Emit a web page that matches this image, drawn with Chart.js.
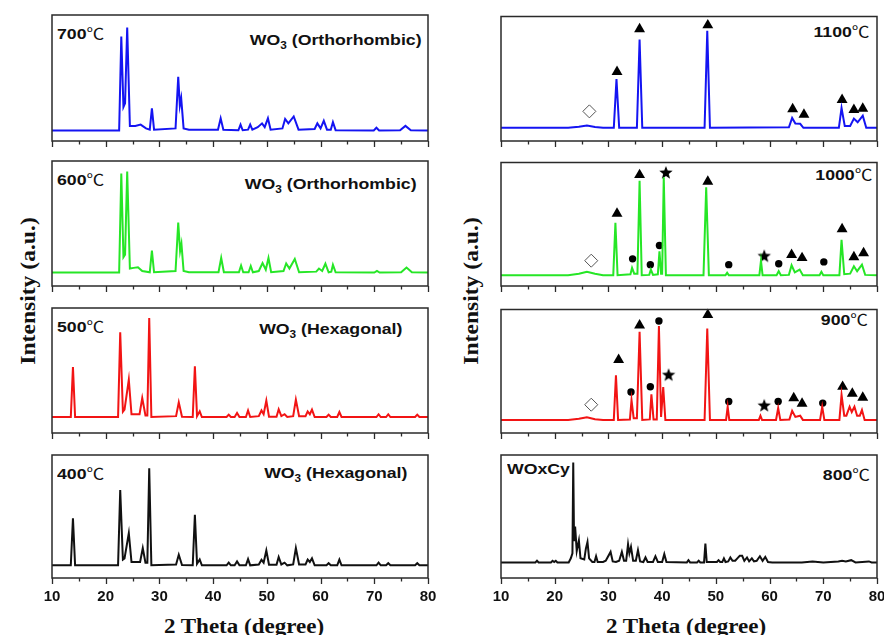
<!DOCTYPE html>
<html>
<head>
<meta charset="utf-8">
<script src="https://cdn.jsdelivr.net/npm/chart.js@4.4.0/dist/chart.umd.min.js"></script>
<style>
  html, body { margin: 0; padding: 0; background: #fff; overflow: hidden; }
  #fig { position: relative; width: 884px; height: 635px; }
  #fig canvas { position: absolute; }
  .lbl { position: absolute; white-space: nowrap; font: bold 15px "Liberation Sans", Arial, sans-serif;
         line-height: 15px; color: #111; transform: scaleX(1.18); transform-origin: left top; }
  .lbl.r { transform-origin: right top; }
  .deg { font-family: "Noto Sans CJK SC", "DejaVu Sans", sans-serif; font-weight: normal; }
  .lbl sub { font-size: 10px; line-height: 0; vertical-align: -4px; }
  .axt { position: absolute; white-space: nowrap; font: bold 20px "Liberation Serif", "Times New Roman", serif;
         line-height: 20px; color: #111; }
</style>
</head>
<body>
<div id="fig">
  <div class="lbl" style="left:57px;top:25px">700<span class="deg">℃</span></div>
  <div class="lbl r" style="right:462px;top:32px">WO<sub>3</sub> (Orthorhombic)</div>
  <div class="lbl" style="left:57px;top:171px">600<span class="deg">℃</span></div>
  <div class="lbl r" style="right:467px;top:176px">WO<sub>3</sub> (Orthorhombic)</div>
  <div class="lbl" style="left:57px;top:318px">500<span class="deg">℃</span></div>
  <div class="lbl r" style="right:482px;top:321px">WO<sub>3</sub> (Hexagonal)</div>
  <div class="lbl" style="left:57px;top:465px">400<span class="deg">℃</span></div>
  <div class="lbl r" style="right:477px;top:465px">WO<sub>3</sub> (Hexagonal)</div>

  <div class="lbl r" style="right:14px;top:23px">1100<span class="deg">℃</span></div>
  <div class="lbl r" style="right:12px;top:166px">1000<span class="deg">℃</span></div>
  <div class="lbl r" style="right:16px;top:311px">900<span class="deg">℃</span></div>
  <div class="lbl" style="left:507px;top:461px">WOxCy</div>
  <div class="lbl r" style="right:14px;top:466px">800<span class="deg">℃</span></div>

  <div class="axt" style="left:244px;top:616px;transform:translateX(-50%) scaleX(1.15)">2 Theta (degree)</div>
  <div class="axt" style="left:686px;top:616px;transform:translateX(-50%) scaleX(1.15)">2 Theta (degree)</div>
  <div class="axt" style="left:28px;top:291px;transform:translate(-50%,-50%) rotate(-90deg) scaleX(1.18)">Intensity (a.u.)</div>
  <div class="axt" style="left:471px;top:291px;transform:translate(-50%,-50%) rotate(-90deg) scaleX(1.18)">Intensity (a.u.)</div>
</div>
<script>
// 2-theta range shared by every panel
const THETA_MIN = 10;
const THETA_MAX = 80;

// Spectra, [2theta, intensity %]
const xrd700 = [[10,8.4],[22.5,8.4],[22.9,83],[23.3,27],[23.6,30],[24.0,90],[24.5,12],[25.5,12],[26.5,13],[27.5,10],
  [28.2,9],[28.6,26],[29.0,9],[33.0,10],[33.5,51],[33.8,28],[34.05,34],[34.5,10],[35.5,9],[40.9,9],[41.4,18],[41.9,9],
  [44.7,8.5],[45.1,13],[45.5,8.5],[46.5,9],[46.9,13],[47.3,9],[48.3,11],[49.1,14],[49.6,11],[50.2,18],[50.7,9],
  [52.9,10],[53.4,17.5],[54.0,14],[55.0,19.5],[55.9,9],[58.9,9.5],[59.4,14],[60.0,10],[60.6,16],[61.2,9],[61.9,9],
  [62.3,15],[62.8,8.6],[69.9,8.4],[70.4,10.5],[70.9,8.4],[74.8,8.6],[75.8,12],[76.8,8.6],[80,8.4]];
const xrd600 = [[10,10.8],[22.5,10.8],[22.9,90],[23.3,23],[23.6,25],[24.0,91.6],[24.5,14],[25.2,14.5],[26.0,15],
  [26.8,12],[28.2,11],[28.6,28.3],[29.0,11],[33.0,12],[33.5,50.7],[33.85,28],[34.1,33.7],[34.5,12],[35.5,11],
  [41.0,11],[41.5,22.4],[42.0,11],[44.8,11],[45.2,16.4],[45.6,11],[46.6,11],[47.0,16],[47.4,11],[48.5,12],[49.2,18.3],
  [49.8,13],[50.3,22.4],[50.8,11],[53.1,12],[53.6,18],[54.2,14],[55.2,21.6],[56.0,11],[59.2,11.5],[59.7,14],
  [60.3,12],[60.9,17.8],[61.5,11],[62.0,11.5],[62.3,17],[62.8,11],[70.0,10.8],[70.5,12],[71.0,10.8],[75.0,11],
  [76.0,14.8],[77.0,11],[80,10.8]];
const xrd500 = [[10,12.8],[13.5,12.8],[13.9,52.8],[14.3,12.8],[22.3,12.8],[22.7,80.5],[23.2,17],[23.5,18.7],[24.3,42.7],
  [24.8,15],[26.3,15],[26.8,28],[27.4,14],[27.75,14],[28.1,92],[28.5,12.8],[33.1,13.5],[33.6,24.5],[34.2,13],
  [36.2,12.8],[36.6,53.3],[37.0,13.5],[37.5,17.3],[37.9,12.8],[42.5,12.8],[42.9,14.7],[43.3,12.8],[44.0,12.8],
  [44.45,16],[44.9,12.8],[46.1,12.8],[46.5,18],[46.9,12.8],[48.5,13.5],[49.0,18],[49.4,15],[49.9,25.9],[50.4,13],
  [51.8,13],[52.2,19],[52.7,13.5],[53.3,15],[53.8,12.8],[54.9,13.5],[55.4,26.7],[56.0,13.5],[57.2,13.5],[57.6,17.3],
  [58.0,15],[58.4,18.7],[58.9,12.8],[61.1,12.8],[61.5,14.7],[61.9,12.8],[63.1,12.8],[63.5,16.8],[63.9,12.8],
  [70.4,12.8],[70.8,15],[71.2,12.8],[72.2,12.8],[72.6,15],[73.0,12.8],[77.6,12.8],[78.0,14.7],[78.4,12.8],[80,12.8]];
const xrd400 = [[10,10.3],[13.5,10.3],[13.9,48.6],[14.3,10.3],[22.3,10.3],[22.7,71.6],[23.2,15],[23.5,16],[24.3,36.5],
  [24.8,13],[26.4,13],[26.9,24.3],[27.4,12.5],[27.75,12.5],[28.1,89.2],[28.5,10.3],[33.1,11],[33.6,18.9],[34.2,10.5],
  [36.2,10.3],[36.6,51.4],[37.0,11.5],[37.5,15],[37.9,10.3],[42.5,10.3],[42.9,12.5],[43.3,10.3],[44.0,10.3],
  [44.45,13.5],[44.9,10.3],[46.1,10.3],[46.5,15.4],[46.9,10.3],[48.5,11],[49.0,14.8],[49.4,12.5],[49.9,22.4],
  [50.4,10.8],[51.8,10.8],[52.2,17],[52.7,11],[53.3,12.5],[53.8,10.3],[54.9,11],[55.4,24.3],[56.0,11],[57.2,11],
  [57.6,15],[58.0,13],[58.4,16],[58.9,10.3],[61.1,10.3],[61.5,12],[61.9,10.3],[63.1,10.3],[63.5,15],[63.9,10.3],
  [70.4,10.3],[70.8,12.5],[71.2,10.3],[72.2,10.3],[72.6,12],[73.0,10.3],[77.6,10.3],[78.0,12],[78.4,10.3],[80,10.3]];

const xrd1100 = [[10,10.6],[22.5,10.6],[24.5,11.5],[26.0,12.4],[27.5,11.2],[29.0,10.6],[31.0,10.6],[31.5,49.7],
  [32.0,10.6],[35.3,10.6],[35.8,81.5],[36.3,10.6],[47.9,10.6],[48.4,88.6],[48.9,10.6],[63.6,11],[64.2,18.5],
  [64.8,14],[65.7,13.8],[66.3,10.6],[72.9,10.6],[73.4,26.5],[74.0,12],[75.0,12],[75.7,18],[76.4,15],[77.35,20.4],
  [78.0,10.6],[80,10.6]];
const xrd1000 = [[10,8.8],[22.5,8.8],[24.5,10],[26.0,11.5],[27.5,10],[29.0,8.8],[30.9,8.8],[31.3,51.2],[31.7,8.8],
  [34.1,9.5],[34.4,14.7],[34.8,10],[35.4,10],[35.8,85.3],[36.2,8.8],[37.6,9],[37.9,13.3],[38.3,9],[39.2,9.5],
  [39.5,28],[39.8,10],[40.0,10],[40.3,88],[40.7,8.8],[47.7,8.8],[48.2,80],[48.7,8.8],[51.8,8.8],[52.1,10.7],
  [52.4,8.8],[58.1,8.8],[58.4,20.5],[58.7,8.8],[61.3,8.8],[61.7,12],[62.1,8.8],[63.6,9],[64.1,16.8],[64.7,11],
  [65.6,13.3],[66.2,8.8],[69.3,8.8],[69.65,11.5],[70.0,8.8],[73.0,8.8],[73.4,37.3],[73.9,9.5],[75.0,10],[75.7,16],
  [76.3,12],[77.2,17.3],[77.8,9],[80,8.8]];
const xrd900 = [[10,10.6],[22.5,10.6],[24.5,11.5],[26.0,12.8],[27.5,11.2],[29.0,10.6],[31.0,10.6],[31.4,46.8],
  [31.8,10.6],[34.0,11],[34.3,26.6],[34.7,12],[35.3,12],[35.8,81.9],[36.3,10.6],[37.7,11],[38.0,31.4],[38.4,11],
  [39.0,11],[39.4,86.7],[39.8,13],[40.2,37.2],[40.6,10.6],[47.9,10.6],[48.4,84.6],[48.9,10.6],[51.9,10.6],
  [52.2,21.3],[52.5,10.6],[58.0,10.6],[58.3,14],[58.6,10.6],[61.2,10.6],[61.6,20.2],[62.0,10.6],[63.7,11],
  [64.2,18],[64.8,13],[65.7,14],[66.2,10.6],[69.4,10.6],[69.8,21.3],[70.2,10.6],[73.0,10.6],[73.4,30.9],[73.9,14],
  [74.3,14],[74.9,21.3],[75.3,17],[75.8,21.3],[76.3,14],[76.8,14],[77.2,18.6],[77.7,10.6],[80,10.6]];
const xrd800 = [[10,12.7],[16.4,12.7],[16.7,14],[17.0,12.7],[19.3,12.7],[19.6,14],[19.9,13],[20.2,14],[20.5,12.7],
  [22.6,12.7],[23.0,16],[23.3,20],[23.45,93.8],[23.6,30],[23.8,41.9],[24.1,22],[24.5,30.6],[24.8,16],[25.5,15],
  [25.8,23.9],[26.1,29.3],[26.4,16],[27.0,13],[27.4,13],[27.7,17.7],[28.0,13],[29.0,13],[29.5,14],[30.4,21.2],
  [30.8,13.5],[31.4,13],[32.0,14],[32.5,21.2],[32.9,14],[33.3,14],[33.65,27.4],[33.9,20],[34.2,25.3],[34.6,14],
  [35.1,14],[35.5,22.6],[35.9,13.5],[36.5,13],[36.9,16.7],[37.3,13],[38.3,13],[38.75,17.7],[39.2,13],[40.0,13],
  [40.4,19.4],[40.8,13],[44.6,12.7],[44.9,14.5],[45.2,12.7],[46.5,12.7],[46.8,14],[47.1,12.7],[47.8,12.7],
  [48.05,28],[48.3,13],[50.2,13],[50.5,14.5],[50.8,13],[51.2,13],[51.5,15.9],[51.8,13],[52.3,13.5],[52.7,16.7],
  [53.1,14],[53.6,14],[54.0,16],[54.45,18],[54.9,18],[55.3,14],[55.8,16.7],[56.2,13.5],[56.7,15.9],[57.1,13.5],
  [57.6,14],[58.2,17.7],[58.7,14],[59.2,17.2],[59.7,13],[60.5,12.7],[66.0,12.7],[68.0,13.5],[70.0,12.7],[72.8,13.5],
  [73.5,14],[74.2,13.5],[75.2,14.5],[76.0,12.7],[78.5,13.5],[79.0,12.7],[80,12.7]];

// Phase markers, [2theta, height %]
const tri1100 = [[31.6,55.6],[35.8,89.9],[48.5,93],[64.3,25.7],[66.4,21.2],[73.5,33],[75.7,25],[77.35,26]];
const dia1100 = [[26.45,23.8]];
const tri1000 = [[31.6,58.7],[35.8,89.9],[48.5,84.5],[64.1,25.3],[66.05,22.7],[73.5,46.1],[75.7,23.5],[77.5,26.7]];
const dot1000 = [[34.5,22],[37.8,17.3],[39.5,32.8],[52.4,17.3],[61.7,18],[70.1,19.5]];
const star1000 = [[40.7,91.5],[59.0,24]];
const dia1000 = [[26.8,20.5]];
const tri900 = [[31.9,59.3],[35.8,87.2],[48.5,95.7],[64.5,28.2],[66.05,23.9],[73.6,37.5],[75.4,31.9],[77.35,28.7]];
const dot900 = [[34.2,33.2],[37.8,37.5],[39.4,90.7],[52.4,25.5],[61.6,25.5],[69.9,24.2]];
const star900 = [[41.2,46.8],[59.0,22]];
const dia900 = [[26.8,22.9]];

const BLUE = '#1414f2';
const GREEN = '#26e626';
const RED = '#f21414';
const BLACK = '#111111';

// panel boxes on the page
const COLS = [[52, 428], [501, 877]];
const ROWS = [[15, 141], [161, 286], [308, 433], [455, 578]];
const PADX = 16, PADT = 6;

function starSprite(r) {
  const c = document.createElement('canvas');
  c.width = c.height = Math.ceil(r * 2 + 2);
  const g = c.getContext('2d');
  const cx = c.width / 2, cy = c.height / 2;
  g.fillStyle = '#000';
  g.beginPath();
  for (let i = 0; i < 10; i++) {
    const rr = i % 2 ? r * 0.42 : r;
    const a = -Math.PI / 2 + i * Math.PI / 5;
    g.lineTo(cx + rr * Math.cos(a), cy + rr * Math.sin(a));
  }
  g.closePath();
  g.fill();
  return c;
}
const STAR = starSprite(7);

// box + outward ticks (long at 10s, short at 5s)
const framePlugin = {
  id: 'frame',
  afterDraw(chart) {
    const { ctx, chartArea: a } = chart;
    const x = chart.scales.x;
    ctx.save();
    ctx.strokeStyle = '#2a2a2a';
    ctx.lineWidth = 1.5;
    ctx.strokeRect(a.left, a.top, a.right - a.left, a.bottom - a.top);
    ctx.lineWidth = 1.3;
    ctx.beginPath();
    x.ticks.forEach(t => {
      const px = Math.round(x.getPixelForValue(t.value)) + 0.5;
      const len = t.value % 10 === 0 ? 6 : 3.5;
      ctx.moveTo(px, a.bottom);
      ctx.lineTo(px, a.bottom + len);
    });
    ctx.stroke();
    ctx.restore();
  }
};

function markerSet(data, style) {
  const base = { data, showLine: false, clip: false, pointBorderWidth: 0, pointBackgroundColor: '#000', pointBorderColor: '#000' };
  if (style === 'tri') return { ...base, pointStyle: 'triangle', pointRadius: 6.3 };
  if (style === 'dot') return { ...base, pointStyle: 'circle', pointRadius: 3.7 };
  if (style === 'star') return { ...base, pointStyle: STAR, pointRadius: 7 };
  return { ...base, pointStyle: 'rectRot', pointRadius: 6.5, pointBackgroundColor: '#fff', pointBorderColor: '#555', pointBorderWidth: 1 };
}

function panel(col, row, series, color, marks) {
  const [l, r] = COLS[col];
  const [t, b] = ROWS[row];
  const bottomRow = row === ROWS.length - 1;
  const extra = bottomRow ? 32 : 10;
  const cv = document.createElement('canvas');
  cv.width = r - l + PADX * 2;
  cv.height = b - t + PADT + extra;
  cv.style.left = (l - PADX) + 'px';
  cv.style.top = (t - PADT) + 'px';
  document.getElementById('fig').appendChild(cv);

  const datasets = [{
    data: series, borderColor: color, borderWidth: 2, pointRadius: 0, tension: 0, fill: false
  }];
  (marks || []).forEach(m => datasets.push(markerSet(m[0], m[1])));

  new Chart(cv, {
    type: 'line',
    data: { datasets },
    options: {
      responsive: false,
      animation: false,
      events: [],
      layout: { padding: { left: PADX, right: PADX, top: PADT, bottom: 0 } },
      plugins: { legend: { display: false }, tooltip: { enabled: false } },
      scales: {
        x: {
          type: 'linear', min: THETA_MIN, max: THETA_MAX,
          afterFit: s => { s.height = extra; },
          border: { display: false },
          grid: { drawOnChartArea: false, drawTicks: true, tickLength: 7, color: 'rgba(0,0,0,0)' },
          ticks: {
            display: bottomRow, stepSize: 5, autoSkip: false, maxRotation: 0, padding: 3, color: '#111',
            font: { family: 'Liberation Sans', weight: 'bold', size: 15 },
            callback: v => (v % 10 === 0 ? v : '')
          }
        },
        y: { display: false, min: 0, max: 100 }
      }
    },
    plugins: [framePlugin]
  });
}

panel(0, 0, xrd700, BLUE);
panel(0, 1, xrd600, GREEN);
panel(0, 2, xrd500, RED);
panel(0, 3, xrd400, BLACK);
panel(1, 0, xrd1100, BLUE, [[dia1100, 'dia'], [tri1100, 'tri']]);
panel(1, 1, xrd1000, GREEN, [[dia1000, 'dia'], [tri1000, 'tri'], [dot1000, 'dot'], [star1000, 'star']]);
panel(1, 2, xrd900, RED, [[dia900, 'dia'], [tri900, 'tri'], [dot900, 'dot'], [star900, 'star']]);
panel(1, 3, xrd800, BLACK);
</script>
</body>
</html>
